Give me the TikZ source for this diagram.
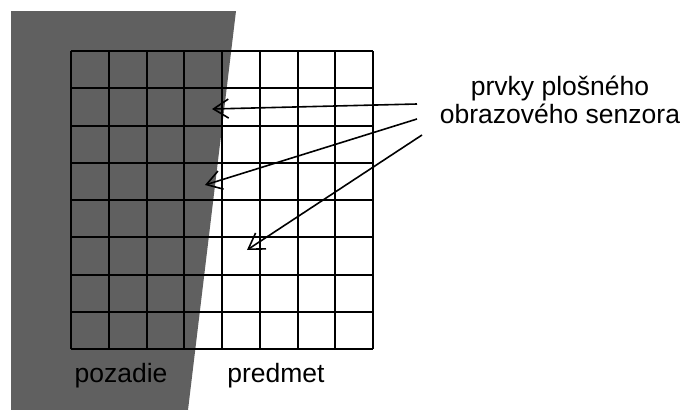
\documentclass[tikz,border=0pt]{standalone}
\usepackage{fontspec}
\setmainfont{Liberation Sans}
\usetikzlibrary{arrows.meta}
\definecolor{bgshade}{RGB}{96,96,96}
\tikzset{
  gridline/.style={line width=2pt, black},
  pointer/.style={line width=1.6pt, black, -{Straight Barb[length=15pt,width=19pt,line width=1.6pt]}},
  caption/.style={font=\fontsize{26.5}{27.5}\selectfont, align=center, inner sep=0pt}
}
\begin{document}
\begin{tikzpicture}[x=1pt,y=-1pt]
  \useasboundingbox (0,0) rectangle (689,410);
  % background region (dark wedge)
  \fill[bgshade] (11,11) -- (236,11) -- (188,410) -- (11,410) -- cycle;
  % sensor grid, 8 x 8 cells
  \foreach \i in {0,...,8} {
    \draw[gridline] ({71+\i*37.75},51) -- ({71+\i*37.75},349);
    \draw[gridline] (71,{51+\i*37.25}) -- (373,{51+\i*37.25});
  }
  % labels
  \node[caption] (sensor) at (560,100) {prvky plošného\\obrazového senzora};
  \node[caption, anchor=base] (bg) at (121,382) {pozadie};
  \node[caption, anchor=base] (obj) at (276,382) {predmet};
  % arrow ends
  \coordinate (s1) at (417,104);
  \coordinate (s2) at (417,119);
  \coordinate (s3) at (422,135);
  \coordinate (t1) at (212,109);
  \coordinate (t2) at (205,185);
  \coordinate (t3) at (247,250);
  \draw[pointer] (s1) -- (t1);
  \draw[pointer] (s2) -- (t2);
  \draw[pointer] (s3) -- (t3);
\end{tikzpicture}
\end{document}
